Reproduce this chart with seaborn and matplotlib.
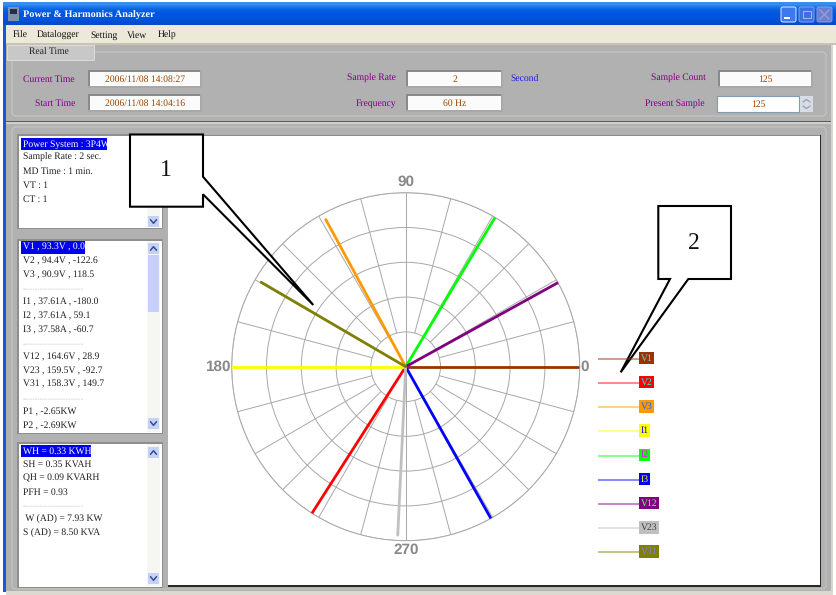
import numpy as np
import pandas as pd
import matplotlib
matplotlib.use("Agg")
import matplotlib.pyplot as plt
from matplotlib.patches import Rectangle, Polygon, FancyBboxPatch
import seaborn as sns

series_names = ["V1", "V2", "V3", "I1", "I2", "I3", "V12", "V23", "V31"]
magnitudes = [93.3, 94.4, 90.9, 37.61, 37.61, 37.58, 164.6, 159.5, 158.3]
angles_deg = [0.0, -122.6, 118.5, -180.0, 59.1, -60.7, 28.9, -92.7, 149.7]
series_groups = ["phase", "phase", "phase", "current", "current", "current", "line", "line", "line"]
series_colors = ["#993300", "#ff0000", "#ff9900", "#ffff00", "#00ff00", "#0000ff",
                 "#800080", "#c0c0c0", "#808000"]
label_colors = ["#66ccff", "#00ffff", "#0066ff", "#0000ff", "#ff00ff", "#ffff00",
                "#7fff7f", "#3f3f3f", "#7f7fff"]

ring_values = [1, 2, 3, 4, 5]
main_spokes = [0, 90, 180, 270]
minor_spokes = [a for a in range(0, 360, 15) if a % 90 != 0]
spoke_labels = ["0", "90", "180", "270"]

# window texts
window_title = "Power & Harmonics Analyzer"
menu_items = ["File", "Datalogger", "Setting", "View", "Help"]
system_lines = ["Power System : 3P4W", "Sample Rate : 2 sec.", "MD Time : 1 min.", "VT : 1", "CT : 1"]
reading_lines = ["V1 , 93.3V , 0.0", "V2 , 94.4V , -122.6", "V3 , 90.9V , 118.5", "-" * 24,
                 "I1 , 37.61A , -180.0", "I2 , 37.61A , 59.1", "I3 , 37.58A , -60.7", "-" * 24,
                 "V12 , 164.6V , 28.9", "V23 , 159.5V , -92.7", "V31 , 158.3V , 149.7", "-" * 24,
                 "P1 , -2.65KW", "P2 , -2.69KW"]
energy_lines = ["WH = 0.33 KWH", "SH = 0.35 KVAH", "QH = 0.09 KVARH", "PFH = 0.93", "-" * 24,
                " W (AD) = 7.93 KW", "S (AD) = 8.50 KVA"]

W, H = 836, 595
sns.set_style("white")
plt.rcParams["font.family"] = ["Liberation Serif", "DejaVu Serif"]
plt.rcParams["text.hinting"] = "none"

PANEL = "#b1b1b1"
FRAME = "#c6c6c0"
PURPLE = "#800080"
BROWN = "#994400"

fig = plt.figure(figsize=(W / 100, H / 100), dpi=100, facecolor="white")


def pixel_axes(zorder):
    ax = fig.add_axes([0, 0, 1, 1], zorder=zorder)
    ax.set_xlim(0, W)
    ax.set_ylim(H, 0)
    ax.axis("off")
    ax.patch.set_alpha(0)
    return ax


def box(ax, x0, y0, x1, y1, face, edge="none", lw=0.0, zorder=1):
    ax.add_patch(Rectangle((x0, y0), x1 - x0, y1 - y0, facecolor=face, edgecolor=edge,
                           linewidth=lw, zorder=zorder))


def label(ax, x, y, s, color="#202020", ha="left", size=6.9, **kw):
    ax.text(x, y, s, color=color, ha=ha, va="center", fontsize=size, zorder=6, **kw)


def field(ax, x0, y0, x1, y1, s):
    box(ax, x0 - 2, y0 - 2, x1 + 2, y1 + 2, "#a8a8a8")
    box(ax, x0 - 2, y0 - 2, x1, y0, "#8a8a8a")
    box(ax, x0 - 2, y0 - 2, x0, y1, "#8a8a8a")
    box(ax, x0, y0, x1, y1, "#fbfbfb", zorder=2)
    label(ax, (x0 + x1) / 2, (y0 + y1) / 2 + 0.5, s, color=BROWN, ha="center")


def scroll_button(ax, y0, up=True):
    box(ax, 148, y0, 159, y0 + 11, "#c5d2f5", zorder=3)
    mid = y0 + 5.5
    d = -1.8 if up else 1.8
    ax.plot([150.5, 153.5, 156.5], [mid - d, mid + d, mid - d], color="#32508c", lw=1.1, zorder=4)


def list_panel(ax, y0, y1, lines, first_y, step, highlight_x1):
    box(ax, 17, y0 - 1, 163, y1 + 1, "#8e8e8e")
    box(ax, 18.5, y0 + 0.5, 162, y1 - 0.5, "white", zorder=2)
    box(ax, 147, y0 + 1, 160, y1 - 1, "#f6f6f2", zorder=3)
    box(ax, 21, first_y - 6.5, highlight_x1, first_y + 6, "#0000ee", zorder=4)
    for i, s in enumerate(lines):
        y = first_y + i * step
        if y > y1 - 3:
            break
        if s.startswith("-"):
            label(ax, 23, y, s, color="#c4c4c4", size=5.5)
        elif i == 0:
            label(ax, 23, y, s, color="white")
        else:
            label(ax, 23, y, s)


bg = pixel_axes(1)

# title bar and menu
grad = np.array([[0.23, 0.55, 0.94], [0.04, 0.40, 0.90], [0.0, 0.33, 0.88], [0.0, 0.33, 0.88],
                 [0.02, 0.30, 0.80]]).reshape(5, 1, 3)
bg.imshow(grad, extent=(3, W, 25, 2), aspect="auto", interpolation="bilinear", zorder=1)
bg.set_xlim(0, W)
bg.set_ylim(H, 0)
box(bg, 8, 7, 19, 21, "#7f8fa8", zorder=2)
box(bg, 10, 9, 17, 14, "#20304a", zorder=3)
label(bg, 23, 15, window_title, color="white", size=7.4, fontweight="bold")
for x0, face, edge in [(781, "#3c78f0", "#e0ecff"), (799, "#3c70e0", "#7fa4ec"), (817, "#6a7fd0", "#8a9ce0")]:
    bg.add_patch(FancyBboxPatch((x0, 7), 15, 15, boxstyle="round,pad=0,rounding_size=2",
                                facecolor=face, edgecolor=edge, linewidth=0.7, zorder=3))
box(bg, 784, 17, 790, 19, "white", zorder=4)
bg.add_patch(Rectangle((803, 11), 8, 7, facecolor="none", edgecolor="#9cb6ec", lw=0.8, zorder=4))
bg.plot([820, 829], [10, 19], color="#8f9cd8", lw=1.2, zorder=4)
bg.plot([820, 829], [19, 10], color="#8f9cd8", lw=1.2, zorder=4)

box(bg, 3, 25, W, 44, "#ece9d8")
for x, s in zip([13, 37, 90, 127, 158], menu_items):
    label(bg, x, 35, s, color="#101010")
box(bg, 3, 43, W, 45, "#c8c4b4")

# blue border on the left, grey body
box(bg, 3, 25, 6, 592, "#1258e0", zorder=2)
box(bg, 6, 45, 831, 591, PANEL)
box(bg, 831, 45, 833, 591, "#d8d6cc")
box(bg, 6, 591, 833, H, "#dcdad0")

# top group with the time fields
bg.add_patch(FancyBboxPatch((12, 52), 814, 64, boxstyle="round,pad=0,rounding_size=4",
                            facecolor="none", edgecolor=FRAME, linewidth=0.8, zorder=2))
box(bg, 7, 45, 94, 60, "#c8c8c8", edge="#dcdcdc", lw=0.7, zorder=3)
label(bg, 49, 52.5, "Real Time", ha="center")
box(bg, 6, 120.5, 831, 122, "#5c5c5c", zorder=2)
box(bg, 6, 122, 831, 124, "#cfcfcf", zorder=2)

label(bg, 75, 79.5, "Current Time", color=PURPLE, ha="right")
label(bg, 75, 103.5, "Start Time", color=PURPLE, ha="right")
label(bg, 396, 78.5, "Sample Rate", color=PURPLE, ha="right")
label(bg, 396, 103, "Frequency", color=PURPLE, ha="right")
label(bg, 510, 79, "Second", color="#2020e0")
label(bg, 706, 78.5, "Sample Count", color=PURPLE, ha="right")
label(bg, 705, 104, "Present Sample", color=PURPLE, ha="right")
field(bg, 90, 72, 200, 86, "2006/11/08 14:08:27")
field(bg, 90, 96, 200, 110, "2006/11/08 14:04:16")
field(bg, 408, 72, 501, 86, "2")
field(bg, 408, 96, 501, 110, "60 Hz")
field(bg, 720, 72, 811, 86, "125")
box(bg, 717, 96, 799, 112, "white", edge="#7f9db9", lw=0.8, zorder=2)
label(bg, 758, 104.5, "125", color=BROWN, ha="center")
box(bg, 800, 96, 813, 112, "#d8dce4", zorder=2)
bg.plot([803, 806.5, 810], [102, 99.5, 102], color="#9aa4b4", lw=1, zorder=3)
bg.plot([803, 806.5, 810], [106, 108.5, 106], color="#9aa4b4", lw=1, zorder=3)

# lower group frame, white plot area and the three list panels
bg.add_patch(FancyBboxPatch((12, 127), 814, 462, boxstyle="round,pad=0,rounding_size=4",
                            facecolor="none", edgecolor=FRAME, linewidth=0.8, zorder=2))
box(bg, 168, 134.5, 821, 587, "#282828", zorder=2)
box(bg, 168, 134.5, 820, 136, "#8c8c8c", zorder=2)
box(bg, 168, 136, 820, 585, "white", zorder=2)

list_panel(bg, 135, 228, system_lines, 144, 13.75, 107)
list_panel(bg, 240, 433, reading_lines, 247.5, 13.7, 85)
list_panel(bg, 443, 587, energy_lines, 451, 13.7, 91)
scroll_button(bg, 216, up=False)
scroll_button(bg, 243)
box(bg, 148, 255, 159, 312, "#c8d0fa", zorder=3)
scroll_button(bg, 418, up=False)
scroll_button(bg, 447)
scroll_button(bg, 573, up=False)

# phasor plot
cx, cy, radius = 405.7, 366.7, 174.0
ax = fig.add_axes([(cx - radius) / W, (H - cy - radius) / H, 2 * radius / W, 2 * radius / H],
                  projection="polar", zorder=2)
ax.patch.set_alpha(0)

phasors = pd.DataFrame({"series": series_names, "value": magnitudes, "angle": angles_deg,
                        "group": series_groups})
phasors["length"] = phasors["value"] / phasors.groupby("group")["value"].transform("max") * ring_values[-1]
rows = []
for _, row in phasors.iterrows():
    rows.append({"series": row["series"], "theta": np.deg2rad(row["angle"]), "r": 0.0})
    rows.append({"series": row["series"], "theta": np.deg2rad(row["angle"]), "r": row["length"]})
lines = pd.DataFrame(rows)

GRID = "#a8a8a8"
ax.vlines(np.deg2rad(minor_spokes), ring_values[0], ring_values[-1], color=GRID, lw=0.7, zorder=1)
sns.lineplot(data=lines, x="theta", y="r", hue="series", hue_order=series_names,
             palette=dict(zip(series_names, series_colors)), estimator=None, sort=False,
             units="series", linewidth=2.0, legend=False, ax=ax, zorder=3)
ax.set_xlabel("")
ax.set_ylabel("")
ax.set_ylim(0, ring_values[-1])
ax.set_rticks(ring_values)
ax.set_yticklabels([])
ax.set_thetagrids(main_spokes, [""] * len(main_spokes))
ax.grid(True, color=GRID, lw=0.7)
ax.spines["polar"].set_color(GRID)
ax.spines["polar"].set_linewidth(0.7)
# the labels sit at slightly different distances from the rim
for angle, s, r_pos in zip(main_spokes, spoke_labels, [5.14, 5.3, 5.39, 5.27]):
    ax.text(np.deg2rad(angle), r_pos, s, family="Liberation Sans", fontweight="bold", fontsize=11,
            color="#888888", ha="center", va="center", clip_on=False, zorder=5)

# legend and callouts go on top of the plot
top = pixel_axes(3)
for i, (name, col, txt) in enumerate(zip(series_names, series_colors, label_colors)):
    y = 358.7 + i * 24.2
    top.plot([598.3, 639.3], [y, y], color=col, alpha=0.55, lw=1.2, solid_capstyle="butt")
    top.text(640.5, y - 0.7, name, color=txt, fontsize=6.9, ha="left", va="center",
             bbox=dict(facecolor=col, edgecolor="none", pad=1.2))

callout_1 = [(130, 134.5), (203, 134.5), (203, 176.7), (313.3, 305), (203, 194.3), (203, 206.7), (130, 206.7)]
callout_2 = [(658.3, 206), (731, 206), (731, 279), (688.3, 279), (620.7, 372.3), (670, 279), (658.3, 279)]
for pts, s, tx, ty in [(callout_1, "1", 166, 170), (callout_2, "2", 694, 243)]:
    top.add_patch(Polygon(pts, closed=True, facecolor="white", edgecolor="black", lw=1.5, joinstyle="miter"))
    top.text(tx, ty, s, color="#101010", fontsize=17, ha="center", va="center")

fig.savefig("out.png", dpi=100, facecolor="white")
